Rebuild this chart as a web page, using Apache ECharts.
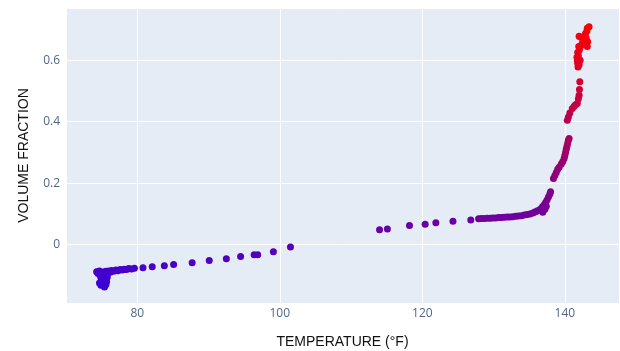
<!DOCTYPE html>
<html>
<head>
<meta charset="utf-8">
<script src="https://cdn.jsdelivr.net/npm/echarts@6/dist/echarts.min.js"></script>
<style>
  html, body { margin: 0; padding: 0; background: #fff; }
  #main { width: 620px; height: 351px; }
</style>
</head>
<body>
<div id="main"></div>
<script>
// temperature (°F) and volume fraction, segment by segment
const coldTemps = [74.3, 74.5, 74.7, 75.0, 75.2, 75.4, 75.6, 75.8, 76.0, 76.2, 76.4, 76.7, 77.0, 77.3, 77.6, 77.9, 78.2, 78.5, 78.8, 79.2, 79.6,
  74.6, 74.8, 74.9, 75.0, 75.1, 75.2, 75.3, 75.4, 75.6, 75.7, 75.5, 75.8, 75.3, 74.7, 74.9]
const coldFractions = [-0.088, -0.094, -0.086, -0.095, -0.089, -0.098, -0.087, -0.093, -0.086, -0.090, -0.084, -0.087, -0.083, -0.085, -0.081, -0.083, -0.080, -0.081, -0.078, -0.079, -0.077,
  -0.092, -0.100, -0.108, -0.115, -0.122, -0.128, -0.134, -0.138, -0.130, -0.120, -0.110, -0.105, -0.118, -0.125, -0.132]

const sparseTemps = [80.8, 82.1, 83.8, 85.1, 87.7, 90.1, 92.5, 94.5, 96.4, 96.9, 99.1, 101.5,
  114.0, 115.1, 118.2, 120.4, 121.9, 124.3, 126.8]
const sparseFractions = [-0.075, -0.072, -0.069, -0.065, -0.059, -0.052, -0.046, -0.039, -0.033, -0.033, -0.023, -0.008,
  0.048, 0.051, 0.062, 0.066, 0.071, 0.076, 0.080]

const warmTemps = [127.9, 128.3, 128.7, 129.1, 129.5, 129.9, 130.3, 130.7, 131.1, 131.5, 131.9, 132.3, 132.7, 133.1, 133.5, 133.9,
  134.3, 134.7, 135.1, 135.5, 135.8, 136.1, 136.4, 136.7, 136.9, 137.1, 137.3, 137.5, 137.7, 137.9, 138.0, 136.9, 137.2, 137.4]
const warmFractions = [0.084, 0.085, 0.085, 0.086, 0.086, 0.087, 0.087, 0.088, 0.088, 0.089, 0.090, 0.090, 0.091, 0.092, 0.093, 0.094,
  0.096, 0.098, 0.100, 0.103, 0.106, 0.109, 0.113, 0.118, 0.124, 0.130, 0.137, 0.145, 0.155, 0.165, 0.172, 0.105, 0.115, 0.125]

const meltTemps = [138.4, 138.6, 138.8, 139.0, 139.2, 139.5, 139.7, 139.9, 140.0, 140.1, 140.2, 140.3, 140.4, 140.5, 140.6,
  140.35, 140.5, 140.7, 141.05, 141.3, 141.5, 141.75, 141.9, 142.0, 142.05, 142.1,
  141.85, 141.8, 141.75, 141.7, 141.9, 141.8, 142.0, 142.1, 141.95, 142.3, 142.5, 142.7, 142.2, 142.0, 142.9, 143.1, 143.15, 143.4, 143.2, 143.15, 143.0, 142.15, 142.0]
const meltFractions = [0.215, 0.225, 0.235, 0.245, 0.252, 0.262, 0.270, 0.280, 0.290, 0.300, 0.310, 0.320, 0.330, 0.340, 0.345,
  0.405, 0.415, 0.428, 0.443, 0.450, 0.455, 0.459, 0.475, 0.486, 0.505, 0.530,
  0.578, 0.590, 0.600, 0.610, 0.615, 0.625, 0.632, 0.640, 0.645, 0.650, 0.660, 0.668, 0.676, 0.678, 0.687, 0.695, 0.704, 0.709, 0.660, 0.645, 0.672, 0.600, 0.585]

const temps = [].concat(coldTemps, sparseTemps, warmTemps, meltTemps)
const fractions = [].concat(coldFractions, sparseFractions, warmFractions, meltFractions)
const points = temps.map((t, i) => [t, fractions[i]])

const myChart = echarts.init(document.getElementById('main'))
const option = {
  animation: false,
  grid: {
    left: 66,
    right: 1,
    top: 8,
    bottom: 48,
    outerBoundsMode: 'none',
    containLabel: false,
    show: true,
    backgroundColor: '#E5ECF6',
    borderWidth: 0
  },
  visualMap: {
    show: false,
    type: 'continuous',
    dimension: 1,
    min: -0.14,
    max: 0.72,
    inRange: { color: ['#3a00d8', '#ff0000'] }
  },
  xAxis: {
    type: 'value',
    min: 70,
    max: 147.6,
    name: 'TEMPERATURE (°F)',
    nameLocation: 'center',
    nameGap: 32,
    nameTextStyle: { fontSize: 14, color: '#111', fontFamily: 'Liberation Sans' },
    axisLine: { show: false },
    axisTick: { show: false },
    axisLabel: {
      showMinLabel: false,
      showMaxLabel: false,
      margin: 5,
      color: '#506784',
      fontSize: 12,
      fontFamily: 'Open Sans'
    },
    splitLine: { lineStyle: { color: '#ffffff', width: 1 } }
  },
  yAxis: {
    type: 'value',
    min: -0.19,
    max: 0.77,
    name: 'VOLUME FRACTION',
    nameLocation: 'center',
    nameGap: 35,
    nameTextStyle: { fontSize: 14, color: '#111', fontFamily: 'Liberation Sans' },
    axisLine: { show: false },
    axisTick: { show: false },
    axisLabel: {
      showMinLabel: false,
      showMaxLabel: false,
      margin: 6,
      color: '#506784',
      fontSize: 12,
      fontFamily: 'Open Sans'
    },
    splitLine: { lineStyle: { color: '#ffffff', width: 1 } }
  },
  series: [
    {
      type: 'scatter',
      symbolSize: 7,
      itemStyle: { opacity: 1 },
      data: points
    }
  ]
}
myChart.setOption(option)
</script>
</body>
</html>
